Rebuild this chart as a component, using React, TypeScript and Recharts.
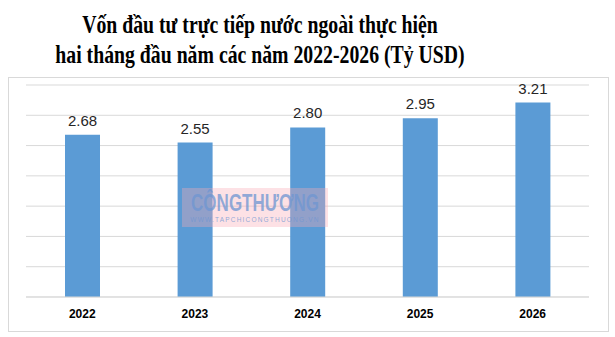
import { BarChart, Bar, XAxis, YAxis, CartesianGrid, LabelList } from "recharts";

const years = ["2022", "2023", "2024", "2025", "2026"];
const capital = [2.68, 2.55, 2.8, 2.95, 3.21];
const yTicks = [0, 0.5, 1, 1.5, 2, 2.5, 3, 3.5];

const data = years.map((year, i) => ({ year, value: capital[i] }));

const wmFont = "'Liberation Sans', Arial, sans-serif";
const wmColor = "rgba(110, 150, 210, 0.75)";

const App = () => {
  return (
    <div style={{ position: "absolute", left: 0, top: 0, width: 615, height: 337, background: "#fff" }}>
      <div
        style={{
          position: "absolute",
          left: 0,
          top: 10,
          width: 520,
          textAlign: "center",
          fontFamily: "'Liberation Serif', 'Times New Roman', serif",
          fontWeight: "bold",
          fontSize: 25,
          lineHeight: "30px",
          color: "#000",
          transform: "scaleX(0.79)",
          transformOrigin: "260px 0"
        }}
      >
        Vốn đầu tư trực tiếp nước ngoài thực hiện
        <br />
        hai tháng đầu năm các năm 2022-2026 (Tỷ USD)
      </div>
      <div
        style={{
          position: "absolute",
          left: 8,
          top: 77,
          width: 599,
          height: 253,
          border: "1px solid #d9d9d9"
        }}
      />
      <div style={{ position: "absolute", left: 0, top: 0 }}>
        <BarChart width={615} height={337} data={data} margin={{ top: 85, right: 26, left: 26, bottom: 10 }}>
          <CartesianGrid vertical={false} stroke="#d9d9d9" />
          <YAxis hide domain={[0, 3.5]} ticks={yTicks} />
          <XAxis
            dataKey="year"
            height={30}
            axisLine={{ stroke: "#d9d9d9" }}
            tickLine={false}
            tickMargin={6}
            tick={{ fill: "#000", fontSize: 12, fontWeight: "bold", fontFamily: "Arial, 'Liberation Sans', sans-serif" }}
          />
          <Bar dataKey="value" fill="#5b9bd5" barSize={35} isAnimationActive={false}>
            <LabelList
              dataKey="value"
              position="top"
              offset={9}
              formatter={(v: any) => Number(v).toFixed(2)}
              style={{ fill: "#262626", fontSize: 15, fontFamily: "Arial, 'Liberation Sans', sans-serif" }}
            />
          </Bar>
        </BarChart>
      </div>
      <svg width={146} height={39} overflow="visible" style={{ position: "absolute", left: 182, top: 188 }}>
        <rect x={0} y={0} width={146} height={39} fill="rgba(250, 170, 180, 0.35)" />
        <text
          x={73}
          y={23}
          textAnchor="middle"
          fontSize={23}
          fontWeight="bold"
          fontFamily={wmFont}
          fill={wmColor}
          transform="translate(73 0) scale(0.74 1) translate(-73 0)"
        >
          {"CÔNGTHƯƠNG"}
        </text>
        <text x={73} y={34} textAnchor="middle" fontSize={6.5} letterSpacing={1.2} fontFamily={wmFont} fill={wmColor}>
          {"WWW.TAPCHICONGTHUONG.VN"}
        </text>
      </svg>
    </div>
  );
};

export default App;
